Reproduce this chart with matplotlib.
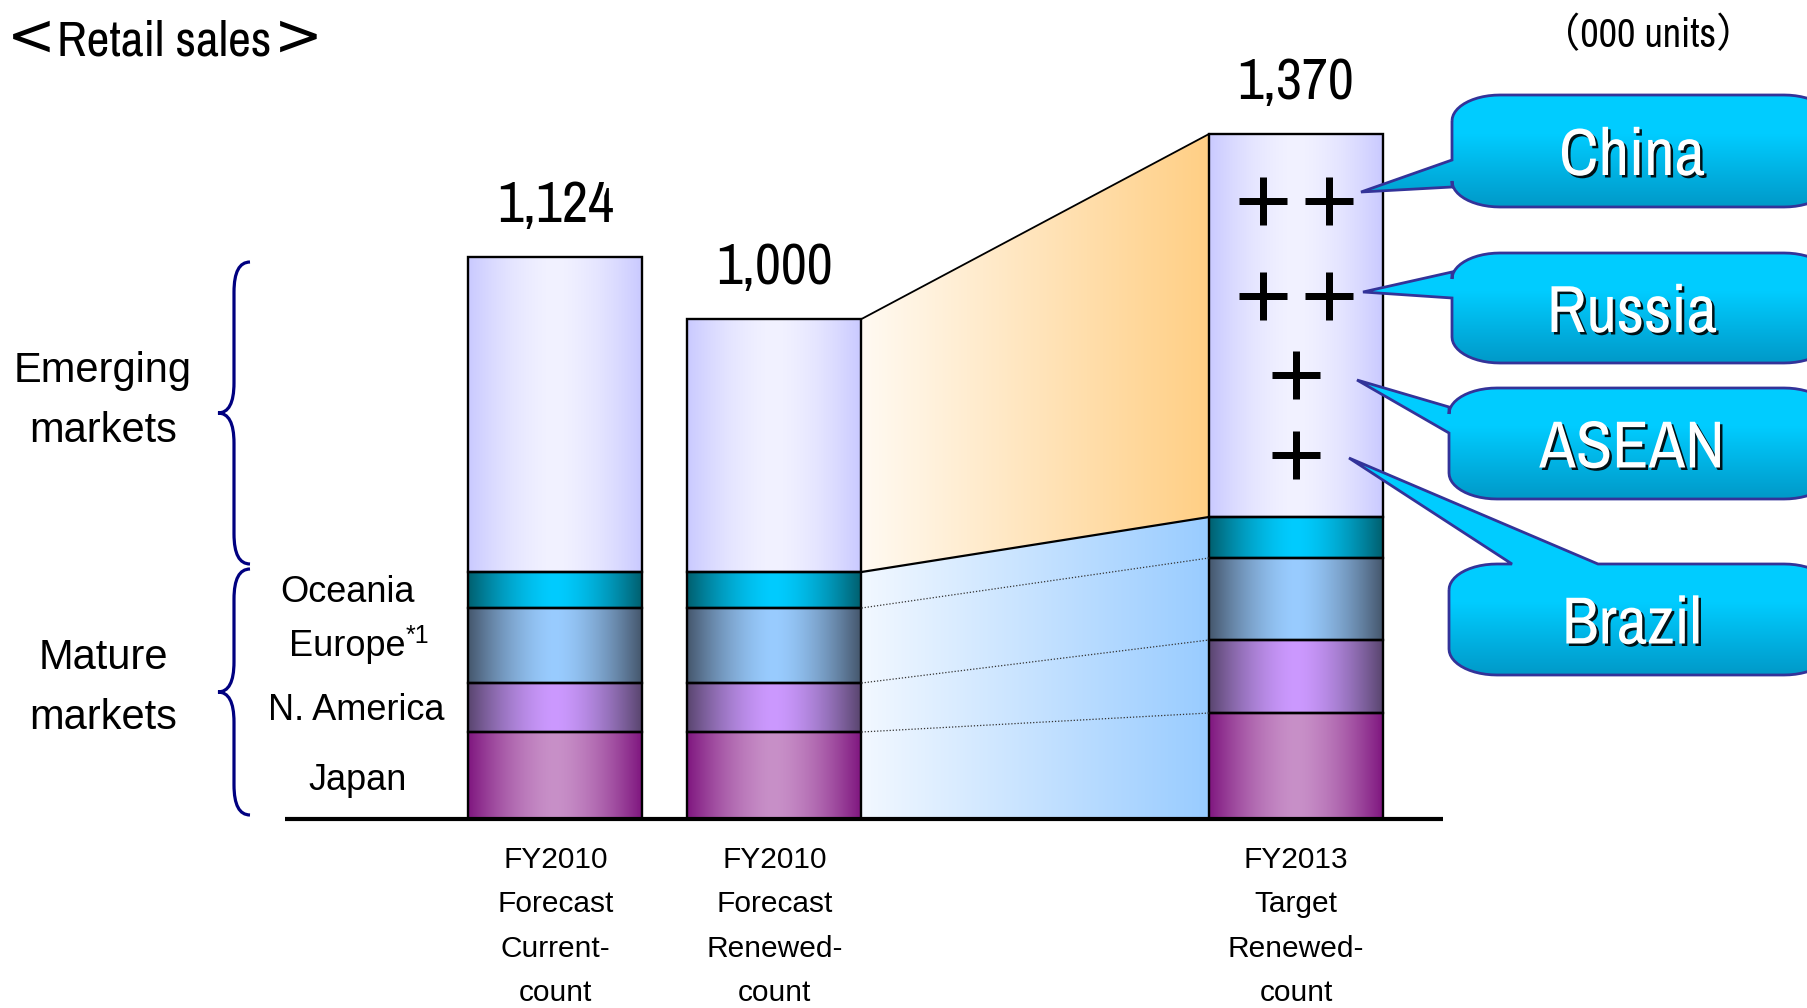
import numpy as np
import matplotlib
matplotlib.use("Agg")
import matplotlib.pyplot as plt
import matplotlib.patheffects as pe
from matplotlib.patches import Polygon, PathPatch
from matplotlib.path import Path
from matplotlib.colors import to_rgb
from matplotlib import font_manager

# ---- data (000 units) ----
categories = ["FY2010\nForecast\nCurrent-\ncount",
              "FY2010\nForecast\nRenewed-\ncount",
              "FY2013\nTarget\nRenewed-\ncount"]
japan = [174, 174, 212]
n_america = [98, 98, 146]
europe = [150, 150, 164]
oceania = [72, 72, 82]
emerging = [630, 506, 766]
region_labels = ["Oceania", "Europe", "N. America", "Japan"]
growth_markets = ["China", "Russia", "ASEAN", "Brazil"]
growth_plus = [2, 2, 1, 1]

ARIAL = "Liberation Sans"
# look for a narrow sans; fall back to Liberation Sans with smaller sizes
narrow, stretch = None, "normal"
for f in font_manager.fontManager.ttflist:
    if "Narrow" in f.name or "Condensed" in f.name:
        narrow = f.name
        break
if narrow is None:
    for f in font_manager.fontManager.ttflist:
        if f.name in ("DejaVu Sans", "Noto Sans", "Open Sans") and "condensed" in str(f.stretch):
            narrow, stretch = f.name, "condensed"
            break
if narrow is None:
    NARROW = ARIAL
    sz = dict(title=30, units=25, value=37, callout=42)
else:
    NARROW = narrow
    sz = dict(title=36, units=29, value=41, callout=48)
PT = 72 / 100  # px -> pt


def hgrad(edge, center, n=96, p=1.6):
    u = np.linspace(0, 1, n)
    f = 1 - np.abs(2 * u - 1) ** p
    e, c = np.array(to_rgb(edge)), np.array(to_rgb(center))
    return (e + (c - e) * f[:, None])[None, :, :]


def lingrad(c0, c1, n=96, vertical=False):
    u = np.linspace(0, 1, n)[:, None]
    a, b = np.array(to_rgb(c0)), np.array(to_rgb(c1))
    g = a + (b - a) * u
    return g[:, None, :] if vertical else g[None, :, :]


fig = plt.figure(figsize=(18.08, 10.08), dpi=100)
ax = fig.add_axes([0, 0, 1, 1])
ax.axis("off")
ov = fig.add_axes([0, 0, 1, 1])
ov.axis("off")

x = np.array([555.5, 774.5, 1296.0])
width = 174

stack = [(japan, "#801880", "#C890C8"),
         (n_america, "#5A4670", "#CC99FF"),
         (europe, "#46586E", "#99CCFF"),
         (oceania, "#006070", "#00CCFF"),
         (emerging, "#CACAFF", "#F2F2FF")]

bottom = np.zeros(3)
levels = [bottom.copy()]
for vals, edge, center in stack:
    bars = ax.bar(x, vals, width, bottom=bottom, color="none",
                  edgecolor="black", linewidth=1.7, zorder=4)
    for b in bars:
        ax.imshow(hgrad(edge, center),
                  extent=[b.get_x(), b.get_x() + b.get_width(),
                          b.get_y(), b.get_y() + b.get_height()],
                  aspect="auto", interpolation="bilinear", zorder=3)
    bottom = bottom + np.array(vals)
    levels.append(bottom.copy())
totals = levels[-1]
mature = levels[4]

# connectors between bar 2 and bar 3
xl, xr = x[1] + width / 2, x[2] - width / 2
orange = Polygon([(xl, totals[1]), (xr, totals[2]), (xr, mature[2]), (xl, mature[1])],
                 closed=True, facecolor="none", edgecolor="none")
ax.add_patch(orange)
im = ax.imshow(lingrad("#FFFAF2", "#FFCF85"), extent=[xl, xr, mature.min(), totals.max()],
               aspect="auto", interpolation="bilinear", zorder=1)
im.set_clip_path(orange)
blue = Polygon([(xl, mature[1]), (xr, mature[2]), (xr, 0), (xl, 0)],
               closed=True, facecolor="none", edgecolor="none")
ax.add_patch(blue)
im = ax.imshow(lingrad("#F2F8FF", "#99CCFF"), extent=[xl, xr, 0, mature.max()],
               aspect="auto", interpolation="bilinear", zorder=1)
im.set_clip_path(blue)
ax.plot([xl, xr], [totals[1], totals[2]], color="black", lw=1.3, zorder=5)
ax.plot([xl, xr], [mature[1], mature[2]], color="black", lw=1.6, zorder=5)
for lv in levels[1:4]:
    ax.plot([xl, xr], [lv[1], lv[2]], color="#333333", lw=0.9,
            linestyle=(0, (1, 1.5)), zorder=5)

ax.plot([285, 1443], [0, 0], color="black", lw=3, solid_capstyle="butt", zorder=6)

for xi, t in zip(x, totals):
    ax.annotate(f"{int(t):,}", (xi, t), xytext=(0, 35 * PT), textcoords="offset points",
                ha="center", va="baseline", fontsize=sz["value"], family=NARROW,
                fontstretch=stretch)

# ---- overlay in pixel coordinates ----
for xi, cat in zip(x, categories):
    ov.text(xi, 846, cat, ha="center", va="top", fontsize=21.5, family=ARIAL,
            linespacing=1.74)

ov.text(7, 38, "<", ha="left", va="center", fontsize=42, family="DejaVu Sans")
ov.text(57, 55, "Retail sales", ha="left", va="baseline", fontsize=sz["title"],
        family=NARROW, fontstretch=stretch)
ov.text(323, 38, ">", ha="right", va="center", fontsize=42, family="DejaVu Sans")
ov.text(1648, 47, "（000 units）", ha="center", va="baseline", fontsize=sz["units"],
        family=[NARROW, "Noto Sans CJK JP"], fontstretch=stretch)

ov.text(103, 401, "Emerging\nmarkets", ha="center", va="center", fontsize=30,
        family=ARIAL, linespacing=1.63)
ov.text(103, 688, "Mature\nmarkets", ha="center", va="center", fontsize=30,
        family=ARIAL, linespacing=1.63)

label_pos = [(348, 593), (347, 647), (356, 711), (358, 781)]
for (lx, ly), lab in zip(label_pos, region_labels):
    ov.text(lx, ly, lab, ha="center", va="center", fontsize=26, family=ARIAL)
ov.text(406, 636, "*1", ha="left", va="center", fontsize=18, family=ARIAL)


def brace(y0, y1, x_end=250, x_stem=234, x_tip=218, r=30):
    ym = (y0 + y1) / 2
    verts = [(x_end, y0), (x_stem, y0), (x_stem, y0 + r), (x_stem, ym - r),
             (x_stem, ym), (x_tip, ym), (x_stem, ym), (x_stem, ym + r),
             (x_stem, y1 - r), (x_stem, y1), (x_end, y1)]
    codes = [Path.MOVETO, Path.CURVE3, Path.CURVE3, Path.LINETO,
             Path.CURVE3, Path.CURVE3, Path.CURVE3, Path.CURVE3,
             Path.LINETO, Path.CURVE3, Path.CURVE3]
    ov.add_patch(PathPatch(Path(verts, codes), facecolor="none",
                           edgecolor="#000080", lw=2.3))


brace(262, 564)
brace(569, 815)

# callouts
boxes = [(1452, 95, 1832, 207), (1452, 253, 1832, 363),
         (1449, 388, 1832, 499), (1449, 564, 1832, 675)]
tips = [(1361, 192), (1363, 292), (1357, 380), (1349, 458)]
bases = [("left", 160, 187), ("left", 272, 298), ("left", 407, 433), ("top", 1512, 1598)]
plus_rows = [201, 296, 375, 455]


def callout_outline(x0, y0, x1, y1, tip, base, rx=48, ry=26, n=14):
    corners = [((x0 + rx, y0 + ry), 180, 270), ((x1 - rx, y0 + ry), 270, 360),
               ((x1 - rx, y1 - ry), 0, 90), ((x0 + rx, y1 - ry), 90, 180)]
    arcs = []
    for (cx, cy), a0, a1 in corners:
        a = np.radians(np.linspace(a0, a1, n))
        arcs.append(list(zip(cx + rx * np.cos(a), cy + ry * np.sin(a))))
    side, b1, b2 = base
    if side == "top":
        pts = arcs[0] + [(b1, y0), tip, (b2, y0)] + arcs[1] + arcs[2] + arcs[3]
    else:
        pts = arcs[0] + arcs[1] + arcs[2] + arcs[3] + [(x0, b2), tip, (x0, b1)]
    return pts


for name, box, tip, base, py, npl in zip(growth_markets, boxes, tips, bases,
                                         plus_rows, growth_plus):
    x0, y0, x1, y1 = box
    pts = callout_outline(x0, y0, x1, y1, tip, base)
    poly = Polygon(pts, closed=True, facecolor="none", edgecolor="#333399",
                   lw=2.0, zorder=6)
    ov.add_patch(poly)
    ytop = min(y0, tip[1])
    ymid = y0 + (y1 - y0) * 0.35
    im = ov.imshow(lingrad("#00CCFF", "#0099C8", vertical=True),
                   extent=[min(x0, tip[0]), x1, y1, ymid],
                   aspect="auto", interpolation="bilinear", zorder=5)
    im.set_clip_path(poly)
    cap = Polygon([(min(x0, tip[0]), ytop), (x1, ytop), (x1, ymid), (min(x0, tip[0]), ymid)],
                  closed=True, facecolor="#00CCFF", edgecolor="none", zorder=4.9)
    ov.add_patch(cap)
    cap.set_clip_path(poly)
    ov.text(1632, (y0 + y1) / 2 + 6, name, ha="center", va="center", fontsize=sz["callout"],
            family=NARROW, fontstretch=stretch, color="white", zorder=7,
            path_effects=[pe.withSimplePatchShadow(offset=(1.8, -1.8),
                                                   shadow_rgbFace="black", alpha=0.9)])
    offs = [-33, 33] if npl == 2 else [0]
    ov.plot(x[2] + np.array(offs), [py] * len(offs), linestyle="none", marker="+",
            markersize=48 * PT, markeredgewidth=7 * PT, color="black", zorder=7)

ax.set_xlim(0, 1808)
ax.set_ylim(-378, 1638)
ov.set_xlim(0, 1808)
ov.set_ylim(1008, 0)

fig.savefig("out.png", dpi=100)
